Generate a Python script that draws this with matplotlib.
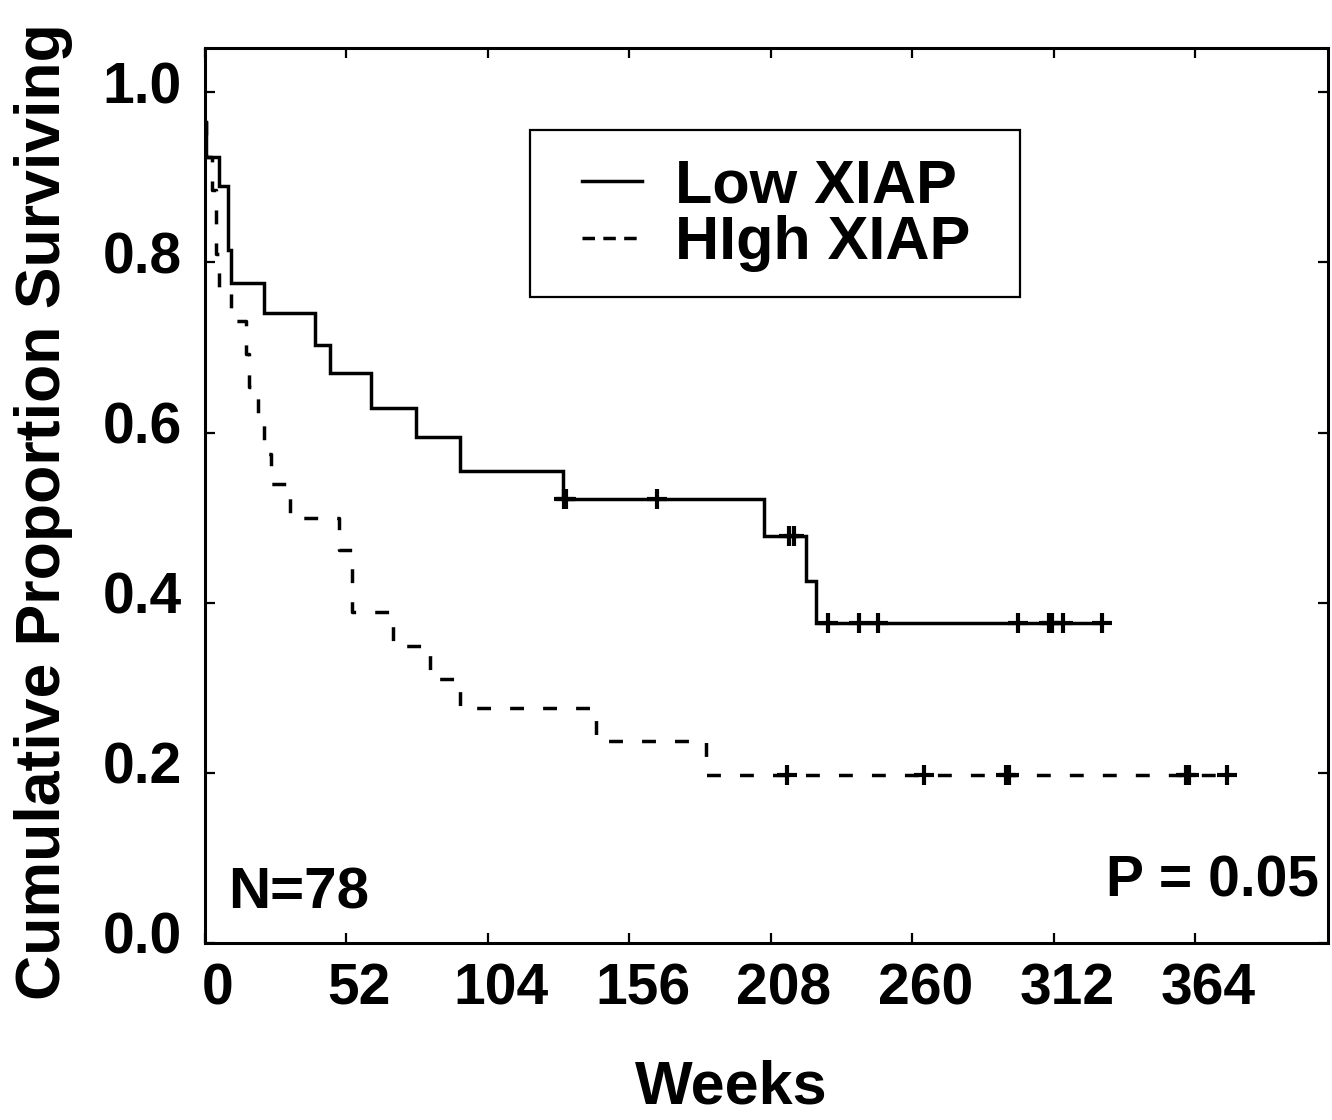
import matplotlib.pyplot as plt
import matplotlib.transforms as mtransforms
from matplotlib.lines import Line2D
from matplotlib.patches import Rectangle

# Kaplan-Meier estimates (weeks, proportion surviving)
low_event_weeks = [0.5, 5.3, 8.6, 9.7, 21.8, 40.6, 46.0, 61.1, 77.6, 93.7, 131.6, 205.3, 220.7, 224.7]
low_surv = [0.924, 0.890, 0.815, 0.776, 0.740, 0.703, 0.670, 0.629, 0.595, 0.555, 0.522, 0.478, 0.425, 0.376]
low_censor_weeks = [131.8, 132.6, 166.0, 214.6, 216.4, 228.8, 240.5, 247.5, 298.9, 310.2, 311.2, 315.4, 329.7]
low_end = 329.7

high_event_weeks = [0.5, 2.4, 4.2, 5.3, 9.7, 15.2, 16.3, 19.6, 21.8, 24.4, 31.3, 49.3, 54.1, 69.1, 82.7,
                    93.7, 143.6, 184.0]
high_surv = [0.924, 0.885, 0.810, 0.770, 0.731, 0.692, 0.654, 0.611, 0.575, 0.540, 0.500, 0.462, 0.389,
             0.349, 0.310, 0.276, 0.237, 0.198]
high_censor_weeks = [213.9, 264.4, 294.4, 295.4, 360.5, 361.5, 375.6]
high_end = 375.6

start_surv = 0.965

xticks = [0, 52, 104, 156, 208, 260, 312, 364]
yticks = [0.0, 0.2, 0.4, 0.6, 0.8, 1.0]

font = ['Liberation Sans', 'DejaVu Sans']


def km_steps(event_weeks, surv, end):
    xs = [0] + list(event_weeks) + [end]
    ys = [start_surv] + list(surv) + [surv[-1]]
    return xs, ys


def censor_levels(censor_weeks, event_weeks, surv):
    out = []
    for c in censor_weeks:
        level = start_surv
        for t, s in zip(event_weeks, surv):
            if t <= c:
                level = s
        out.append(level)
    return out


fig = plt.figure(figsize=(13.32, 11.2), dpi=100)
ax = fig.add_axes([205 / 1332, 1 - 943 / 1120, (1328 - 205) / 1332, (943 - 48) / 1120])

lw = 2.5
x, y = km_steps(low_event_weeks, low_surv, low_end)
ax.step(x, y, where='post', color='black', lw=lw, solid_joinstyle='miter')
ax.plot(low_censor_weeks, censor_levels(low_censor_weeks, low_event_weeks, low_surv),
        ls='none', marker='+', ms=14, mew=3.0, color='black')

x, y = km_steps(high_event_weeks, high_surv, high_end)
ax.step(x, y, where='post', color='black', lw=lw, linestyle=(0, (4.0, 5.5)))
ax.plot(high_censor_weeks, censor_levels(high_censor_weeks, high_event_weeks, high_surv),
        ls='none', marker='+', ms=14, mew=3.0, color='black')

ax.set_xlim(0, 412.7)
ax.set_ylim(0, 1.052)
ax.set_xticks(xticks)
ax.set_xticklabels([str(t) for t in xticks])
ax.set_yticks(yticks)
ax.set_yticklabels(['%.1f' % t for t in yticks])

for s in ax.spines.values():
    s.set_linewidth(2.2)
ax.tick_params(direction='in', length=7, width=1.6, top=True, right=True)
ax.tick_params(axis='x', pad=14)
ax.tick_params(axis='y', pad=16.5)
for lab in ax.get_xticklabels() + ax.get_yticklabels():
    lab.set_fontfamily(font)
    lab.set_fontweight('bold')
    lab.set_fontsize(41)
for lab in ax.get_xticklabels():
    lab.set_transform(lab.get_transform() + mtransforms.ScaledTranslation(0.13, 0, fig.dpi_scale_trans))
for lab in ax.get_yticklabels():
    lab.set_transform(lab.get_transform() + mtransforms.ScaledTranslation(0, 0.10, fig.dpi_scale_trans))

# legend
handles = [Line2D([], [], color='black', lw=lw),
           Line2D([], [], color='black', lw=lw, linestyle=(0, (3.6, 2.4)))]
ax.add_patch(Rectangle((0.2894, 0.7218), 0.4363, 0.1866, transform=ax.transAxes,
                       fill=False, lw=1.6, edgecolor='black', clip_on=False))
ax.legend(handles, ['Low XIAP', 'HIgh XIAP'], loc='upper left', bbox_to_anchor=(0.3357, 0.877),
          frameon=False, borderpad=0, borderaxespad=0, handlelength=0.98, handletextpad=0.55,
          labelspacing=0.0, prop=dict(family=font, weight='bold', size=44))

ax.text(0.0205, 0.039, 'N=78', transform=ax.transAxes, ha='left', va='baseline',
        fontsize=42, fontweight='bold', family=font)
ax.text(0.992, 0.0514, 'P = 0.05', transform=ax.transAxes, ha='right', va='baseline',
        fontsize=41, fontweight='bold', family=font)

fig.text(44 / 1332, 1 - 512 / 1120, 'Cumulative Proportion Surviving', rotation=90,
         ha='center', va='center', fontsize=45, fontweight='bold', family=font)
fig.text(731 / 1332, 4 / 1120, 'Weeks', ha='center', va='bottom',
         fontsize=44, fontweight='bold', family=font)

fig.savefig('out.png', dpi=100)
